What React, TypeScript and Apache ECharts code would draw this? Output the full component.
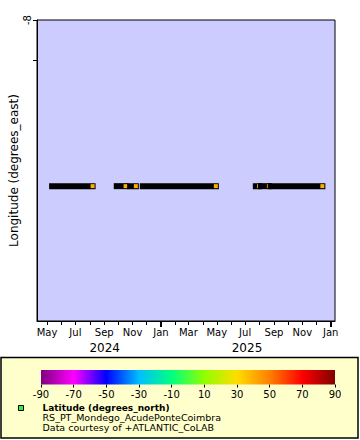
import React, { useEffect, useRef } from 'react';
import * as echarts from 'echarts';

// Station position (single fixed station)
const longitude = -8.414;
const latitude = 40.2;

// Continuous runs of observations (start / end date of each run)
const runStart = ['2024-05-12', '2024-09-28', '2024-10-27', '2024-11-23', '2025-07-24', '2025-08-04', '2025-08-25'];
const runEnd = ['2024-08-07', '2024-10-17', '2024-11-08', '2025-04-29', '2025-07-31', '2025-08-21', '2025-12-14'];

// X axis ticks
const tickMonths = [
  '2024-05-01', '2024-06-01', '2024-07-01', '2024-08-01', '2024-09-01', '2024-10-01', '2024-11-01',
  '2024-12-01', '2025-01-01', '2025-02-01', '2025-03-01', '2025-04-01', '2025-05-01', '2025-06-01',
  '2025-07-01', '2025-08-01', '2025-09-01', '2025-10-01', '2025-11-01', '2025-12-01', '2026-01-01',
];
const labelMonths = ['2024-05-01', '2024-07-01', '2024-09-01', '2024-11-01', '2025-01-01', '2025-03-01', '2025-05-01', '2025-07-01', '2025-09-01', '2025-11-01', '2026-01-01'];
const yearTicks = ['2025-01-01', '2026-01-01'];
const monthNames = ['Jan', 'Feb', 'Mar', 'Apr', 'May', 'Jun', 'Jul', 'Aug', 'Sep', 'Oct', 'Nov', 'Dec'];
const yearLabels = ['2024', '2025'];
const yearLabelAt = ['2024-09-02', '2025-07-05'];

// Y axis ticks
const yLabelValues = [-8];
const yTickValues = [-8, -8.1];

// Colour bar
const colorbarTicks = [-90, -70, -50, -30, -10, 10, 30, 50, 70, 90];
const colorbarColors = ['#800080', '#ff00ff', '#0000ff', '#00bfff', '#00ff80', '#90ff00', '#ffdd00', '#ff8000', '#ff0000', '#800000'];

const FONT = 'DejaVu Sans';

function hexToRgb(h: string) {
  const n = parseInt(h.slice(1), 16);
  return [(n >> 16) & 255, (n >> 8) & 255, n & 255];
}
function paletteColor(v: number) {
  for (let i = 0; i < colorbarTicks.length - 1; i++) {
    if (v >= colorbarTicks[i] && v <= colorbarTicks[i + 1]) {
      const t = (v - colorbarTicks[i]) / (colorbarTicks[i + 1] - colorbarTicks[i]);
      const a = hexToRgb(colorbarColors[i]);
      const b = hexToRgb(colorbarColors[i + 1]);
      const c = a.map((x, k) => Math.round(x + (b[k] - x) * t));
      return `rgb(${c[0]},${c[1]},${c[2]})`;
    }
  }
  return '#000';
}

export default function App() {
  const ref = useRef<HTMLDivElement>(null);
  useEffect(() => {
    if (!ref.current) return;
    const chart = echarts.init(ref.current, undefined, { renderer: 'svg' });
    const markerColor = paletteColor(latitude);
    const runs = runStart.map((s, i) => [Date.parse(s), Date.parse(runEnd[i]), longitude]);
    const ts = (s: string) => Date.parse(s);
    const xMin = Date.UTC(2024, 3, 9, 12);
    const xMax = Date.UTC(2026, 0, 10, 5);
    const yearVals = yearLabelAt.map(ts);

    const option: any = {
      animation: false,
      textStyle: { fontFamily: FONT },
      grid: [
        { left: 37, top: 20, width: 298, height: 301, show: true, backgroundColor: '#ccccff', borderColor: '#000', borderWidth: 1, outerBoundsMode: 'none', containLabel: false },
        { left: 41, top: 370, width: 294, height: 14.5, show: false, outerBoundsMode: 'none', containLabel: false },
      ],
      xAxis: [
        {
          gridIndex: 0,
          type: 'value',
          min: xMin,
          max: xMax,
          splitLine: { show: false },
          axisLine: { show: true, lineStyle: { color: '#000', width: 1 } },
          axisTick: { show: true, length: 4, lineStyle: { color: '#000' }, customValues: tickMonths.map(ts) },
          axisLabel: {
            customValues: labelMonths.map(ts),
            formatter: (v: number) => monthNames[new Date(v).getUTCMonth()],
            color: '#000', fontSize: 10, fontFamily: FONT, margin: 6,
          },
        },
        {
          gridIndex: 0,
          type: 'value',
          position: 'bottom',
          offset: 15,
          min: xMin,
          max: xMax,
          splitLine: { show: false },
          axisLine: { show: false },
          axisTick: { show: false },
          axisLabel: {
            customValues: yearVals,
            formatter: (v: number) => {
              const i = yearVals.indexOf(v);
              return i >= 0 ? yearLabels[i] : '';
            },
            color: '#000', fontSize: 12, fontFamily: FONT, margin: 6,
          },
        },
        {
          gridIndex: 1,
          type: 'value',
          min: -90,
          max: 90,
          splitLine: { show: false },
          axisLine: { show: false },
          axisTick: { show: true, length: 3, lineStyle: { color: '#000' }, customValues: colorbarTicks },
          axisLabel: { customValues: colorbarTicks, color: '#000', fontSize: 10, fontFamily: FONT, margin: 5 },
        },
        {
          gridIndex: 0,
          type: 'value',
          position: 'bottom',
          min: xMin,
          max: xMax,
          splitLine: { show: false },
          axisLine: { show: false },
          axisLabel: { show: false },
          axisTick: { show: true, length: 6, lineStyle: { color: '#000', width: 2 }, customValues: yearTicks.map(ts) },
        },
      ],
      yAxis: [
        {
          gridIndex: 0,
          type: 'value',
          min: -8.75,
          max: -8,
          splitLine: { show: false },
          axisLine: { show: true, lineStyle: { color: '#000', width: 1 } },
          axisTick: { show: true, length: 4, lineStyle: { color: '#000' }, customValues: yTickValues },
          axisLabel: { customValues: yLabelValues, rotate: 90, color: '#000', fontSize: 10, fontFamily: FONT, margin: 5 },
          name: 'Longitude (degrees_east)',
          nameLocation: 'middle',
          nameGap: 17,
          nameMoveOverlap: false,
          nameTextStyle: { color: '#000', fontSize: 12, fontFamily: FONT },
        },
        { gridIndex: 1, type: 'value', min: 0, max: 1, show: false },
      ],
      series: [
        {
          type: 'custom',
          xAxisIndex: 0,
          yAxisIndex: 0,
          encode: { x: [0, 1], y: 2 },
          data: runs,
          renderItem: (params: any, api: any) => {
            const p1 = api.coord([api.value(0), api.value(2)]);
            const p2 = api.coord([api.value(1), api.value(2)]);
            return {
              type: 'group',
              children: [
                { type: 'rect', shape: { x: p1[0] - 3, y: p1[1] - 3, width: p2[0] - p1[0] + 6, height: 6 }, style: { fill: '#000' } },
                { type: 'rect', shape: { x: p2[0] - 2, y: p2[1] - 2, width: 4, height: 4 }, style: { fill: markerColor } },
              ],
            };
          },
        },
        {
          type: 'custom',
          xAxisIndex: 2,
          yAxisIndex: 1,
          data: [[-90, 0]],
          renderItem: (params: any) => {
            const cs = params.coordSys;
            return {
              type: 'rect',
              shape: { x: cs.x, y: cs.y, width: cs.width, height: cs.height },
              style: {
                fill: new echarts.graphic.LinearGradient(0, 0, 1, 0,
                  colorbarTicks.map((t, i) => ({ offset: (t + 90) / 180, color: colorbarColors[i] }))),
              },
            };
          },
        },
      ],
      graphic: [
        { type: 'rect', z: -1, shape: { x: 1, y: 357.5, width: 357, height: 80.5 }, style: { fill: '#ffffcc', stroke: '#000', lineWidth: 1.5 } },
        { type: 'rect', shape: { x: 18.5, y: 405.5, width: 5, height: 5 }, style: { fill: '#33ee33', stroke: '#000', lineWidth: 1 } },
        { type: 'text', x: 42.5, y: 408, style: { text: 'Latitude (degrees_north)', font: `bold 9px "${FONT}"`, fill: '#000', verticalAlign: 'middle' } },
        { type: 'text', x: 42.5, y: 417.5, style: { text: 'RS_PT_Mondego_AcudePonteCoimbra', font: `9.5px "${FONT}"`, fill: '#000', verticalAlign: 'middle' } },
        { type: 'text', x: 42.5, y: 427, style: { text: 'Data courtesy of +ATLANTIC_CoLAB', font: `9.5px "${FONT}"`, fill: '#000', verticalAlign: 'middle' } },
      ],
    };
    chart.setOption(option);
    return () => chart.dispose();
  }, []);
  return <div ref={ref} style={{ position: 'fixed', left: 0, top: 0, width: 360, height: 440, background: '#fff' }} />;
}
